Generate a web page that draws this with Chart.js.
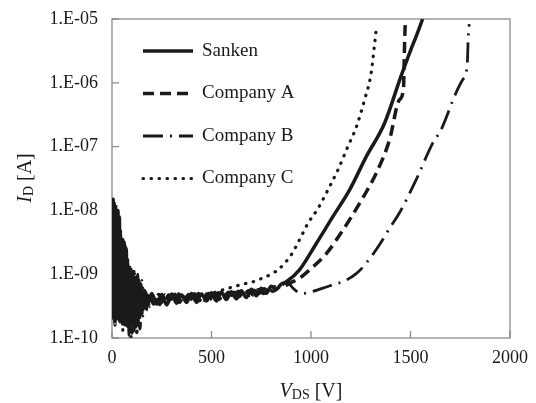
<!DOCTYPE html>
<html>
<head>
<meta charset="utf-8">
<script src="https://cdn.jsdelivr.net/npm/chart.js@4.4.1/dist/chart.umd.min.js"></script>
<style>
  html, body { margin: 0; padding: 0; background: #fff; }
  #wrap { width: 536px; height: 403px; }
</style>
</head>
<body>
<div id="wrap"><canvas id="myChart" width="536" height="403"></canvas></div>
<script>
// Données (V en volts, I en ampères)
const seriesNames = ['Sanken', 'Company A', 'Company B', 'Company C'];

const sankenV = [0, 3, 6, 9, 12, 15, 18, 21, 24, 27, 30, 33, 36, 39, 42, 45, 48, 51, 54, 57,
    60, 63, 66, 69, 72, 75, 78, 81, 85, 90, 95, 100, 105, 110, 115, 120, 125, 130, 135, 140,
    145, 150, 155, 160, 165, 170, 175, 200, 225, 250, 275, 300, 325, 350, 375, 400, 425, 450, 475, 500,
    525, 550, 575, 600, 625, 650, 675, 700, 725, 750, 775, 800, 825, 850, 876, 943, 1026, 1109, 1194, 1277,
    1369, 1452, 1500, 1530, 1561];
const sankenI = [3e-10, 5e-9, 1.5e-8, 2e-10, 1.2e-8, 4e-10, 9e-9, 2e-10, 6e-9, 5e-10,
    1e-8, 2.5e-10, 4e-9, 1.8e-10, 3e-9, 6e-10, 2.5e-9, 2e-10, 2e-9, 4e-10,
    3e-9, 2e-10, 1.5e-9, 3e-10, 2.5e-9, 1.7e-10, 1.2e-9, 3.5e-10, 1e-9, 1.5e-10,
    8e-10, 2.2e-10, 1.1e-9, 1.3e-10, 7e-10, 2e-10, 9e-10, 1.6e-10, 6e-10, 2.5e-10,
    7e-10, 2.8e-10, 5.5e-10, 3e-10, 5.5e-10, 3.3e-10, 3.2e-10, 5e-10, 3.4e-10, 4.8e-10,
    3.3e-10, 4.9e-10, 3.5e-10, 4.7e-10, 3.6e-10, 5e-10, 3.6e-10, 4.9e-10, 3.8e-10, 5.1e-10,
    3.8e-10, 5.2e-10, 4e-10, 5.3e-10, 4.1e-10, 5.5e-10, 4.3e-10, 5.8e-10, 4.6e-10, 6e-10,
    5e-10, 6.5e-10, 5.8e-10, 7e-10, 7.6e-10, 1.18e-9, 3e-9, 7.9e-9, 2.1e-8, 6.9e-8,
    2.3e-7, 1.26e-6, 3.2e-6, 5.5e-6, 1e-5];

const compAV = [0, 3, 6, 9, 12, 15, 18, 21, 24, 27, 30, 33, 36, 39, 42, 45, 48, 51, 54, 57,
    60, 63, 66, 69, 72, 75, 78, 81, 85, 90, 95, 100, 105, 110, 115, 120, 125, 130, 135, 140,
    145, 150, 155, 160, 165, 170, 185, 210, 235, 260, 285, 310, 335, 360, 385, 410, 435, 460, 485, 510,
    535, 560, 585, 610, 635, 660, 685, 710, 735, 760, 785, 810, 840, 870, 900, 943, 993, 1077, 1160, 1244,
    1327, 1394, 1444, 1465, 1468, 1471, 1474];
const compAI = [1e-9, 2.5e-10, 1.1e-8, 3e-10, 7e-9, 1.6e-10, 1.3e-8, 5e-10, 3e-9, 2e-10,
    6e-9, 4e-10, 2e-9, 2.2e-10, 5e-9, 3e-10, 1.5e-9, 1.7e-10, 3.5e-9, 5e-10,
    1.2e-9, 2.5e-10, 2.8e-9, 1.8e-10, 1e-9, 4e-10, 1.8e-9, 1.4e-10, 7e-10, 2.6e-10,
    1.2e-9, 1.2e-10, 6e-10, 3e-10, 1e-9, 1.5e-10, 5e-10, 2.3e-10, 8e-10, 1.4e-10,
    5e-10, 2.4e-10, 6e-10, 3e-10, 5e-10, 2.7e-10, 4.6e-10, 3.4e-10, 4.8e-10, 3.5e-10,
    4.7e-10, 3.6e-10, 4.9e-10, 3.7e-10, 4.8e-10, 3.8e-10, 5e-10, 3.9e-10, 5e-10, 4e-10,
    5.1e-10, 4.1e-10, 5.2e-10, 4.3e-10, 5.4e-10, 4.5e-10, 5.5e-10, 4.7e-10, 5.7e-10, 5e-10,
    5.9e-10, 5.4e-10, 6.3e-10, 6.6e-10, 7.4e-10, 8.7e-10, 1.17e-9, 2.1e-9, 4.9e-9, 1.29e-8,
    3.8e-8, 1.26e-7, 5.4e-7, 8.3e-7, 2e-6, 5e-6, 9e-6];

const compBV = [0, 3, 6, 9, 12, 15, 18, 21, 24, 27, 30, 33, 36, 39, 42, 45, 48, 51, 54, 57,
    60, 63, 66, 69, 72, 75, 78, 81, 85, 90, 95, 100, 105, 110, 115, 120, 125, 130, 135, 140,
    145, 150, 155, 160, 165, 170, 190, 215, 240, 265, 290, 315, 340, 365, 390, 415, 440, 465, 490, 515,
    540, 565, 590, 615, 640, 665, 690, 715, 740, 765, 790, 815, 850, 880, 910, 935, 960, 1010, 1077, 1120,
    1160, 1227, 1277, 1344, 1394, 1444, 1528, 1611, 1653, 1728, 1762, 1785, 1790, 1795];
const compBI = [6e-9, 3e-10, 1e-8, 6e-10, 1.5e-8, 2.2e-10, 4e-9, 1.1e-9, 3e-10, 7e-9,
    4e-10, 1.5e-9, 2e-10, 8e-9, 5e-10, 2e-9, 1.8e-10, 1.2e-9, 3e-10, 2.5e-9,
    2e-10, 3.2e-9, 4e-10, 1e-9, 1.6e-10, 1.5e-9, 3e-10, 8e-10, 1.1e-10, 1.3e-9,
    2.5e-10, 7e-10, 1.4e-10, 9e-10, 2.8e-10, 6e-10, 1.2e-10, 1e-9, 2e-10, 6e-10,
    3e-10, 8e-10, 2.2e-10, 5e-10, 3.2e-10, 5.2e-10, 3.1e-10, 4.7e-10, 3.3e-10, 4.8e-10,
    3.4e-10, 4.9e-10, 3.6e-10, 4.8e-10, 3.7e-10, 5e-10, 3.8e-10, 5e-10, 3.9e-10, 5.1e-10,
    4e-10, 5.2e-10, 4.2e-10, 5.3e-10, 4.4e-10, 5.5e-10, 4.6e-10, 5.7e-10, 4.9e-10, 6e-10,
    5.4e-10, 6.4e-10, 6.6e-10, 7.6e-10, 6e-10, 5.2e-10, 5e-10, 5.4e-10, 6.3e-10, 7e-10,
    7.6e-10, 1.02e-9, 1.48e-9, 2.9e-9, 5.2e-9, 9.1e-9, 3e-8, 1.12e-7, 1.82e-7, 6.9e-7,
    1.12e-6, 1.9e-6, 5e-6, 8.3e-6];

const compCV = [0, 3, 6, 9, 12, 15, 18, 21, 24, 27, 30, 33, 36, 39, 42, 45, 48, 51, 54, 57,
    60, 63, 66, 69, 72, 75, 78, 81, 85, 90, 95, 100, 105, 110, 115, 120, 125, 130, 135, 140,
    145, 150, 155, 160, 165, 170, 200, 230, 260, 300, 340, 380, 420, 460, 500, 550, 607, 660, 709, 760,
    800, 842, 900, 943, 985, 1035, 1085, 1135, 1185, 1227, 1269, 1302, 1319, 1330];
const compCI = [1e-9, 1.2e-8, 3.5e-10, 4e-9, 2e-10, 9e-9, 5e-10, 1.5e-9, 2.2e-10, 5e-9,
    3.5e-10, 2.5e-9, 2.5e-10, 3e-9, 3e-10, 1.3e-9, 2e-10, 1e-9, 1.3e-10, 1.4e-9,
    2e-10, 9e-10, 1.5e-10, 2.2e-9, 3e-10, 1.1e-9, 1.5e-10, 8e-10, 2.2e-10, 6e-10,
    1e-10, 9e-10, 1.4e-10, 1.1e-9, 2.5e-10, 5.5e-10, 1.1e-10, 7e-10, 2.4e-10, 5e-10,
    3.1e-10, 6e-10, 2.7e-10, 4.6e-10, 3.2e-10, 5e-10, 3.8e-10, 4.4e-10, 4e-10, 4.3e-10,
    4.5e-10, 4.4e-10, 4.6e-10, 4.8e-10, 5e-10, 5.6e-10, 6.3e-10, 7e-10, 7.6e-10, 8.8e-10,
    1e-9, 1.23e-9, 2e-9, 3.5e-9, 6.3e-9, 1.07e-8, 2.1e-8, 4.3e-8, 1e-7, 2e-7,
    5.4e-7, 1.4e-6, 3.9e-6, 7.8e-6];

const xTickValues = [0, 500, 1000, 1500, 2000];
const xTickLabels = ['0', '500', '1000', '1500', '2000'];
const yTickValues = [1e-10, 1e-9, 1e-8, 1e-7, 1e-6, 1e-5];
const yTickLabels = ['1.E-10', '1.E-09', '1.E-08', '1.E-07', '1.E-06', '1.E-05'];

// Configuration de l'apparence
const serif = "'Liberation Serif', 'DejaVu Serif', serif";
const ink = '#1a1a1a';

function pts(vs, is) {
    return vs.map((v, k) => ({ x: v, y: is[k] }));
}

const data = {
    datasets: [{
        label: seriesNames[0],
        data: pts(sankenV, sankenI),
        borderColor: ink,
        borderWidth: 3.5,
        borderCapStyle: 'butt',
    }, {
        label: seriesNames[1],
        data: pts(compAV, compAI),
        borderColor: ink,
        borderWidth: 3.5,
        borderDash: [11, 6],
        borderCapStyle: 'butt',
    }, {
        label: seriesNames[2],
        data: pts(compBV, compBI),
        borderColor: ink,
        borderWidth: 2.8,
        borderDash: [20, 7, 2, 7],
        borderCapStyle: 'butt',
    }, {
        label: seriesNames[3],
        data: pts(compCV, compCI),
        borderColor: ink,
        borderWidth: 3.2,
        borderDash: [0.5, 7.5],
        borderCapStyle: 'round',
    }]
};

// Cadre gris + petites graduations vers l'intérieur
const frame = {
    id: 'frame',
    beforeDatasetsDraw(chart) {
        const { ctx, chartArea: a, scales: { x, y } } = chart;
        ctx.save();
        ctx.strokeStyle = '#8a8a8a';
        ctx.lineWidth = 1.3;
        ctx.strokeRect(a.left, a.top, a.right - a.left, a.bottom - a.top);
        ctx.beginPath();
        xTickValues.forEach(v => {
            const px = x.getPixelForValue(v);
            ctx.moveTo(px, a.bottom);
            ctx.lineTo(px, a.bottom - 7);
        });
        yTickValues.forEach(v => {
            const py = y.getPixelForValue(v);
            ctx.moveTo(a.left, py);
            ctx.lineTo(a.left + 7, py);
        });
        ctx.stroke();
        ctx.restore();
    }
};

// Légende dans la zone du graphique
const insideLegend = {
    id: 'insideLegend',
    afterDatasetsDraw(chart) {
        const { ctx, chartArea: a } = chart;
        ctx.save();
        chart.data.datasets.forEach((ds, i) => {
            const yy = a.top + 32 + i * 42.5;
            const x0 = a.left + 31;
            ctx.beginPath();
            ctx.strokeStyle = ds.borderColor;
            ctx.lineWidth = ds.borderWidth;
            ctx.lineCap = ds.borderCapStyle;
            ctx.setLineDash(ds.borderDash || []);
            ctx.moveTo(x0, yy);
            ctx.lineTo(x0 + 50, yy);
            ctx.stroke();
            ctx.setLineDash([]);
            ctx.fillStyle = ink;
            ctx.font = '19px ' + serif;
            ctx.textBaseline = 'middle';
            ctx.fillText(ds.label, x0 + 59, yy);
        });
        ctx.restore();
    }
};

// Titres des axes avec indices
function drawRich(ctx, parts, cx, cy) {
    let w = 0;
    parts.forEach(p => { ctx.font = p.font; w += ctx.measureText(p.t).width; });
    let xx = cx - w / 2;
    parts.forEach(p => {
        ctx.font = p.font;
        ctx.fillText(p.t, xx, cy + (p.dy || 0));
        xx += ctx.measureText(p.t).width;
    });
}

const axisTitles = {
    id: 'axisTitles',
    afterDraw(chart) {
        const { ctx } = chart;
        ctx.save();
        ctx.fillStyle = ink;
        ctx.textBaseline = 'alphabetic';
        drawRich(ctx, [
            { t: 'V', font: 'italic 20px ' + serif },
            { t: 'DS', font: '14px ' + serif, dy: 2 },
            { t: ' [V]', font: '20px ' + serif },
        ], 311, 397);
        ctx.translate(31, 178);
        ctx.rotate(-Math.PI / 2);
        drawRich(ctx, [
            { t: 'I', font: 'italic 20px ' + serif },
            { t: 'D', font: '14px ' + serif, dy: 2 },
            { t: ' [A]', font: '20px ' + serif },
        ], 0, 0);
        ctx.restore();
    }
};

const config = {
    type: 'line',
    data: data,
    options: {
        responsive: false,
        animation: false,
        events: [],
        layout: { padding: { top: 19, right: 26, left: 0, bottom: 0 } },
        elements: {
            point: { radius: 0 },
            line: { cubicInterpolationMode: 'monotone' },
        },
        scales: {
            x: {
                type: 'linear',
                min: 0,
                max: 2000,
                afterBuildTicks: s => { s.ticks = xTickValues.map(v => ({ value: v })); },
                afterFit: s => { s.height = 65; },
                grid: { display: false },
                border: { display: false },
                ticks: {
                    color: ink,
                    padding: 1,
                    font: { family: serif, size: 18 },
                    callback: v => xTickLabels[xTickValues.indexOf(v)],
                },
            },
            y: {
                type: 'logarithmic',
                min: 1e-10,
                max: 1e-5,
                afterBuildTicks: s => { s.ticks = yTickValues.map(v => ({ value: v })); },
                afterFit: s => { s.width = 112; },
                grid: { display: false },
                border: { display: false },
                ticks: {
                    color: ink,
                    padding: 6,
                    autoSkip: false,
                    font: { family: serif, size: 18 },
                    callback: v => yTickLabels[yTickValues.indexOf(v)],
                },
            },
        },
        plugins: {
            legend: { display: false },
            tooltip: { enabled: false },
            title: { display: false },
        }
    },
    plugins: [frame, insideLegend, axisTitles],
};

// Affichage du document
var myChart = new Chart(
    document.getElementById('myChart'),
    config
);
</script>
</body>
</html>
